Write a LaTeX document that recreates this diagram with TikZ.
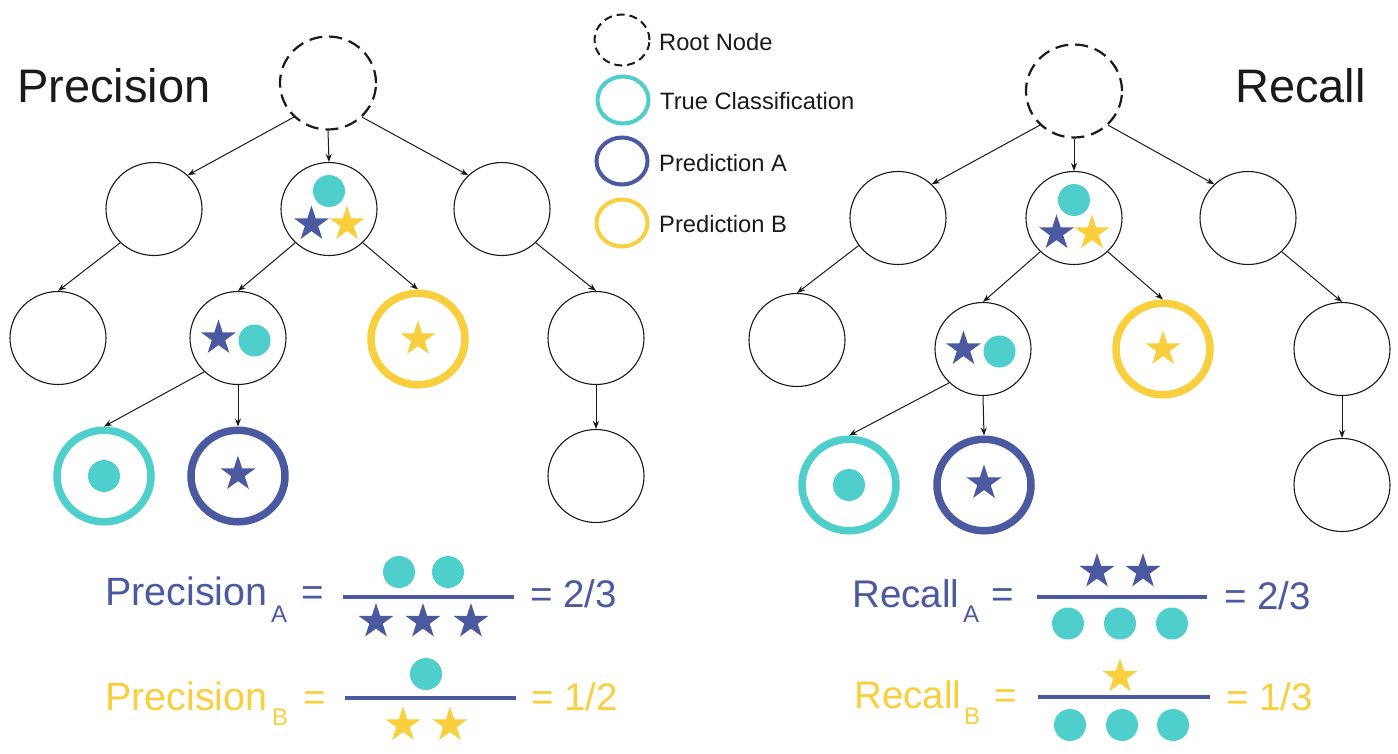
\documentclass[tikz,border=0pt]{standalone}
\usepackage{fontspec}
\setmainfont{Liberation Sans}
\usetikzlibrary{shapes.geometric,arrows.meta}
\definecolor{tealc}{HTML}{4FCFCB}
\definecolor{bluec}{HTML}{4B5AA0}
\definecolor{yelc}{HTML}{F9CF3E}
\definecolor{inkc}{HTML}{1A1A1A}
\tikzset{
  tnode/.style={ellipse, draw=inkc, line width=1.1pt, minimum width=96pt, minimum height=93pt, inner sep=0pt},
  rootnode/.style={tnode, line width=2.2pt, dash pattern=on 13pt off 7pt},
  tcnode/.style={tnode, draw=tealc, line width=7.5pt, minimum width=94pt, minimum height=91.5pt},
  panode/.style={tnode, draw=bluec, line width=7.5pt, minimum width=94pt, minimum height=91.5pt},
  pbnode/.style={tnode, draw=yelc, line width=7.5pt, minimum width=94pt, minimum height=91.5pt},
  lgroot/.style={ellipse, draw=inkc, line width=2pt, dash pattern=on 8pt off 5pt, minimum width=55pt, minimum height=51pt, inner sep=0pt},
  lgring/.style={ellipse, line width=4pt, minimum width=51pt, minimum height=47pt, inner sep=0pt},
  conn/.style={draw=inkc, line width=1pt, -{Stealth[length=8pt,width=6pt]}},
  dotc/.style={circle, fill=tealc, minimum size=32pt, inner sep=0pt},
  bstar/.style={star, star points=5, star point ratio=2.618, fill=bluec, minimum size=37pt, inner sep=0pt},
  ystar/.style={bstar, fill=yelc},
  txt/.style={inner sep=0pt, anchor=base west},
  title/.style={txt, text=inkc, font=\fontsize{47}{50}\selectfont},
  lgtxt/.style={txt, text=inkc, font=\fontsize{23.7}{26}\selectfont},
  eqtxt/.style={txt, font=\fontsize{38.5}{40}\selectfont},
  eqtxtw/.style={txt, font=\fontsize{39.5}{41}\selectfont},
  subtxt/.style={txt, font=\fontsize{24}{26}\selectfont},
  fracline/.style={draw=bluec, line width=4pt}
}
\begin{document}
\begin{tikzpicture}[x=1pt,y=-1pt]
\useasboundingbox (0,0) rectangle (1398,753);
\fill[white] (0,0) rectangle (1398,753);

% ---------- titles ----------
\node[title] (tP) at (17,102) {Precision};
\node[title] (tR) at (1235,102) {Recall};

% ---------- legend ----------
\node[lgroot] (lg1) at (622,40) {};
\node[lgring, draw=tealc] (lg2) at (623,100) {};
\node[lgring, draw=bluec] (lg3) at (622,161) {};
\node[lgring, draw=yelc] (lg4) at (622,223) {};
\node[lgtxt] (lt1) at (659,50) {Root Node};
\node[lgtxt] (lt2) at (660,109) {True Classification};
\node[lgtxt] (lt3) at (659,171) {Prediction A};
\node[lgtxt] (lt4) at (659,232) {Prediction B};

% ---------- left tree ----------
\node[rootnode] (pR) at (328,83) {};
\node[tnode] (p1a) at (154,209) {};
\node[tnode] (p1b) at (329,209) {};
\node[tnode] (p1c) at (502,209) {};
\node[tnode] (p2a) at (58,338) {};
\node[tnode] (p2b) at (238,338) {};
\node[pbnode] (p2c) at (418,339) {};
\node[tnode] (p2d) at (596,338) {};
\node[tcnode] (p3a) at (104,476) {};
\node[panode] (p3b) at (238,476) {};
\node[tnode] (p3c) at (596,476) {};

\draw[conn] (pR.225) -- (p1a.45);
\draw[conn] (pR.south) -- (p1b.north);
\draw[conn] (pR.-45) -- (p1c.135);
\draw[conn] (p1a.225) -- (p2a.north);
\draw[conn] (p1b.225) -- (p2b.north);
\draw[conn] (p1b.-45) -- (p2c.north);
\draw[conn] (p1c.-45) -- (p2d.north);
\draw[conn] (p2b.225) -- (p3a.north);
\draw[conn] (p2b.south) -- (p3b.north);
\draw[conn] (p2d.south) -- (p3c.north);

\node[dotc] (pd1) at ([shift={(0,-18)}]p1b.center) {};
\node[bstar] (ps1) at ([shift={(-17.5,15)}]p1b.center) {};
\node[ystar] (ps2) at ([shift={(18,15)}]p1b.center) {};
\node[bstar] (ps3) at ([shift={(-19.5,0)}]p2b.center) {};
\node[dotc] (pd2) at ([shift={(16.5,2.5)}]p2b.center) {};
\node[ystar] (ps4) at ([shift={(0,0)}]p2c.center) {};
\node[dotc] (pd3) at ([shift={(0,0)}]p3a.center) {};
\node[bstar] (ps5) at ([shift={(0,-2)}]p3b.center) {};

% ---------- right tree ----------
\node[rootnode] (rR) at (1074,91) {};
\node[tnode] (r1a) at (898,218) {};
\node[tnode] (r1b) at (1074,218) {};
\node[tnode] (r1c) at (1248,218) {};
\node[tnode] (r2a) at (797,340) {};
\node[tnode] (r2b) at (983,349) {};
\node[pbnode] (r2c) at (1163,349) {};
\node[tnode] (r2d) at (1342,349) {};
\node[tcnode] (r3a) at (849,485) {};
\node[panode] (r3b) at (984,485) {};
\node[tnode] (r3c) at (1342,485) {};

\draw[conn] (rR.225) -- (r1a.45);
\draw[conn] (rR.south) -- (r1b.north);
\draw[conn] (rR.-45) -- (r1c.135);
\draw[conn] (r1a.215) -- (r2a.north);
\draw[conn] (r1b.225) -- (r2b.north);
\draw[conn] (r1b.-45) -- (r2c.north);
\draw[conn] (r1c.-45) -- (r2d.north);
\draw[conn] (r2b.225) -- (r3a.north);
\draw[conn] (r2b.south) -- (r3b.north);
\draw[conn] (r2d.south) -- (r3c.north);

\node[dotc] (rd1) at ([shift={(0,-18)}]r1b.center) {};
\node[bstar] (rs1) at ([shift={(-17.5,15)}]r1b.center) {};
\node[ystar] (rs2) at ([shift={(18,15)}]r1b.center) {};
\node[bstar] (rs3) at ([shift={(-19.5,0)}]r2b.center) {};
\node[dotc] (rd2) at ([shift={(16.5,2.5)}]r2b.center) {};
\node[ystar] (rs4) at ([shift={(0,0)}]r2c.center) {};
\node[dotc] (rd3) at ([shift={(0,0)}]r3a.center) {};
\node[bstar] (rs5) at ([shift={(0,-2)}]r3b.center) {};

% ---------- Precision equations ----------
\node[eqtxtw, text=bluec] (eqPA) at (105,605) {Precision};
\node[subtxt, text=bluec] (eqPAs) at (271,622) {A};
\node[eqtxt, text=bluec] (eqPAe) at (301,605) {=};
\coordinate (fPA1) at (343,597);
\coordinate (fPA2) at (514,597);
\draw[fracline] (fPA1) -- (fPA2);
\node[dotc] (ePAd1) at (399,572) {};
\node[dotc] (ePAd2) at (448,572) {};
\node[bstar] (ePAs1) at (376,621.5) {};
\node[bstar] (ePAs2) at (423,621.5) {};
\node[bstar] (ePAs3) at (471,621.5) {};
\node[eqtxt, text=bluec] (eqPAr) at (530,607) {= 2/3};

\node[eqtxtw, text=yelc] (eqPB) at (105,710) {Precision};
\node[subtxt, text=yelc] (eqPBs) at (272,725) {B};
\node[eqtxt, text=yelc] (eqPBe) at (303,710) {=};
\coordinate (fPB1) at (345,698);
\coordinate (fPB2) at (516,698);
\draw[fracline] (fPB1) -- (fPB2);
\node[dotc] (ePBd1) at (426,674) {};
\node[ystar] (ePBs1) at (403,725) {};
\node[ystar] (ePBs2) at (450,725) {};
\node[eqtxt, text=yelc] (eqPBr) at (531,710) {= 1/2};

% ---------- Recall equations ----------
\node[eqtxt, text=bluec] (eqRA) at (852,607) {Recall};
\node[subtxt, text=bluec] (eqRAs) at (963,622) {A};
\node[eqtxt, text=bluec] (eqRAe) at (991,607) {=};
\coordinate (fRA1) at (1037,597);
\coordinate (fRA2) at (1207,597);
\draw[fracline] (fRA1) -- (fRA2);
\node[bstar] (eRAs1) at (1097,571.5) {};
\node[bstar] (eRAs2) at (1143,571.5) {};
\node[dotc] (eRAd1) at (1068,623.5) {};
\node[dotc] (eRAd2) at (1120,623.5) {};
\node[dotc] (eRAd3) at (1172,623.5) {};
\node[eqtxt, text=bluec] (eqRAr) at (1224,609) {= 2/3};

\node[eqtxt, text=yelc] (eqRB) at (854,708) {Recall};
\node[subtxt, text=yelc] (eqRBs) at (964,724) {B};
\node[eqtxt, text=yelc] (eqRBe) at (994,708) {=};
\coordinate (fRB1) at (1038,697);
\coordinate (fRB2) at (1210,697);
\draw[fracline] (fRB1) -- (fRB2);
\node[ystar] (eRBs1) at (1120,676.5) {};
\node[dotc] (eRBd1) at (1070,725) {};
\node[dotc] (eRBd2) at (1122,725) {};
\node[dotc] (eRBd3) at (1173,725) {};
\node[eqtxt, text=yelc] (eqRBr) at (1226,710) {= 1/3};
\end{tikzpicture}
\end{document}
